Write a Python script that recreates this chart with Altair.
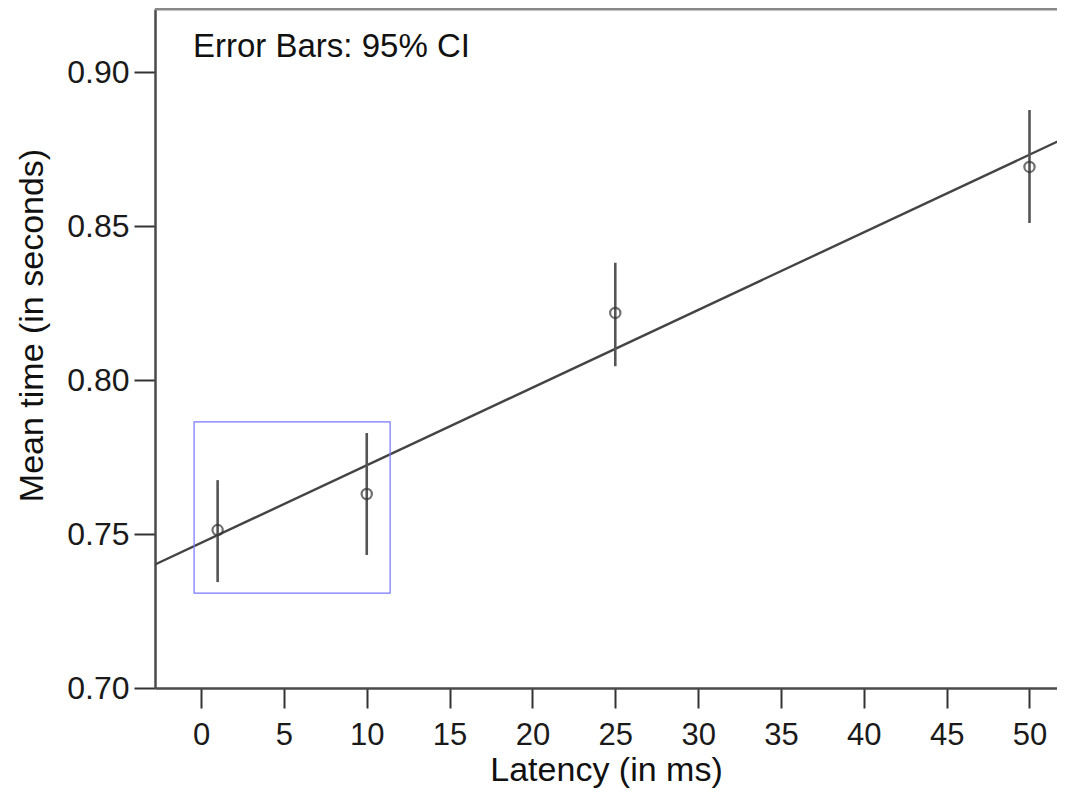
import altair as alt
import pandas as pd

# ---- data ----
latency = [1, 10, 25, 50]
mean_time = [0.7513, 0.7630, 0.8218, 0.8692]
ci_low = [0.7344, 0.7432, 0.8045, 0.8510]
ci_high = [0.7675, 0.7828, 0.8381, 0.8877]

box_x = [-0.42, 11.41]
box_y = [0.7308, 0.7864]

notes = ["Error Bars: 95% CI"]

x_ticks = [0, 5, 10, 15, 20, 25, 30, 35, 40, 45, 50]
y_ticks = [0.70, 0.75, 0.80, 0.85, 0.90]

df = pd.DataFrame({"latency": latency, "mean": mean_time, "lo": ci_low, "hi": ci_high})
box_df = pd.DataFrame({"x0": [box_x[0]], "x1": [box_x[1]], "y0": [box_y[0]], "y1": [box_y[1]]})
note_df = pd.DataFrame({"label": notes})

W, H = 902, 679
FONT = "Liberation Sans"

xscale = alt.Scale(domain=[-2.78, 51.66], nice=False, zero=False)
yscale = alt.Scale(domain=[0.70, 0.9205], nice=False, zero=False)

x_axis = alt.Axis(
    values=x_ticks, title="Latency (in ms)", grid=False,
    domainColor="#4a4a4a", domainWidth=2.5,
    tickColor="#333333", tickWidth=2, tickSize=20,
    labelFont=FONT, labelFontSize=31, labelColor="#1a1a1a", labelPadding=12,
    labelFlush=False, labelOverlap=False,
    titleFont=FONT, titleFontSize=34, titleFontWeight="normal", titleColor="#111111",
    titleY=92, titleBaseline="alphabetic",
)
y_axis = alt.Axis(
    values=y_ticks, format=".2f", title="Mean time (in seconds)", grid=False,
    domainColor="#4a4a4a", domainWidth=2.5,
    tickColor="#333333", tickWidth=2, tickSize=21,
    labelFont=FONT, labelFontSize=32, labelColor="#1a1a1a", labelPadding=5,
    labelFlush=False, labelOverlap=False,
    titleFont=FONT, titleFontSize=34, titleFontWeight="normal", titleColor="#111111",
    titleAngle=270, titleX=-113, titleY=316, titleBaseline="alphabetic",
)

base = alt.Chart(df)

fit = base.transform_regression("latency", "mean", extent=[-3, 53]).mark_line(
    clip=True, color="#444444", strokeWidth=2.4
).encode(
    x=alt.X("latency:Q", scale=xscale, axis=x_axis),
    y=alt.Y("mean:Q", scale=yscale, axis=y_axis),
)

bars = base.mark_rule(color="#555555", strokeWidth=2.6).encode(
    x=alt.X("latency:Q", scale=xscale),
    y=alt.Y("lo:Q", scale=yscale),
    y2="hi:Q",
)

pts = base.mark_point(shape="circle", filled=False, size=105, strokeWidth=2.2, color="#333333").encode(
    x=alt.X("latency:Q", scale=xscale),
    y=alt.Y("mean:Q", scale=yscale),
)

box = alt.Chart(box_df).mark_rect(fillOpacity=0, stroke="#7777ff", strokeWidth=1.2).encode(
    x=alt.X("x0:Q", scale=xscale),
    x2="x1:Q",
    y=alt.Y("y0:Q", scale=yscale),
    y2="y1:Q",
)

note = alt.Chart(note_df).mark_text(
    align="left", baseline="alphabetic", font=FONT, fontSize=33, color="#111111"
).encode(text="label:N", x=alt.value(38), y=alt.value(48))

top = alt.Chart(note_df).mark_rule(color="#888888", strokeWidth=3).encode(
    x=alt.value(0), x2=alt.value(W), y=alt.value(0)
)

chart = alt.layer(fit, bars, pts, box, note, top).properties(
    width=W, height=H,
    autosize=alt.AutoSizeParams(type="none"),
    padding={"left": 147, "top": 1, "right": 0, "bottom": 100},
).configure_view(strokeWidth=0)

chart.save("out.html", embed_options={"renderer": "svg", "actions": False})
